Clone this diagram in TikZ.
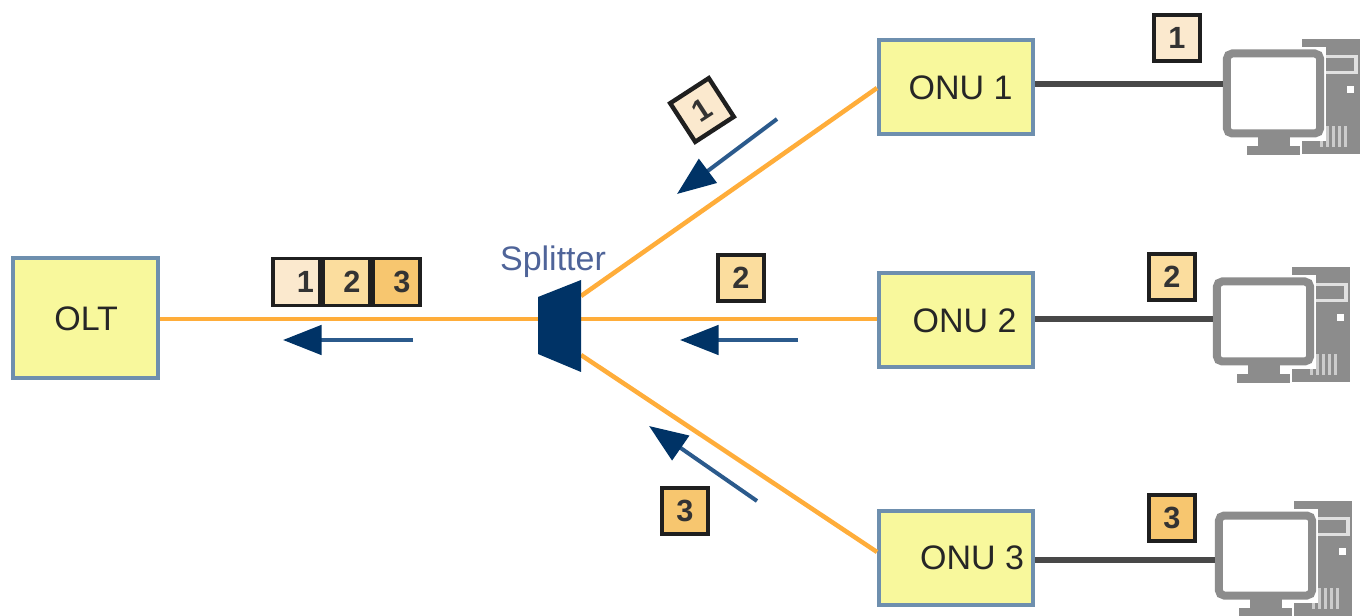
\documentclass[tikz,border=0pt]{standalone}
\usepackage{fontspec}
\setmainfont{Liberation Sans}
\usetikzlibrary{arrows.meta}
\definecolor{nodefill}{HTML}{F8F89C}
\definecolor{nodeline}{HTML}{6E8FAE}
\definecolor{fibre}{HTML}{FFAD3A}
\definecolor{navy}{HTML}{003366}
\definecolor{shaft}{HTML}{2B5A8C}
\definecolor{copper}{HTML}{484848}
\definecolor{pcgrey}{HTML}{8C8C8C}
\definecolor{labelblue}{HTML}{4F6499}
\definecolor{sigA}{HTML}{FBE9CE}
\definecolor{sigB}{HTML}{FBDD9E}
\definecolor{sigC}{HTML}{F7C66F}
\tikzset{
  x=0.75pt,y=-0.75pt,
  unit/.style={draw=nodeline,fill=nodefill,line width=3pt,minimum width=116pt,minimum height=70.5pt,inner sep=0pt,font=\fontsize{25.5}{25.5}\selectfont,text=black!85},
  fibreline/.style={draw=fibre,line width=3.4pt},
  copperline/.style={draw=copper,line width=3.8pt},
  flow/.style={draw=shaft,line width=3pt,-{Stealth[length=29pt,width=22pt,inset=0pt,color=navy]}},
  badge/.style={draw=black!88,line width=3.3pt,minimum size=34.5pt,inner sep=0pt,font=\fontsize{23}{23}\selectfont\bfseries,text=black!80},
  cell/.style={badge,line width=2.6pt,minimum width=35pt,minimum height=35pt},
  pcpart/.style={fill=pcgrey,draw=none},
  screen/.style={draw=pcgrey,fill=white,line width=6pt,rounded corners=4pt,minimum width=70pt,minimum height=60pt,inner sep=0pt},
  caption/.style={font=\fontsize{25.5}{25.5}\selectfont,text=labelblue,inner sep=0pt},
}
\newcommand{\pcicon}[3]{%
  \begin{scope}[shift={(#2,#3)}]
    \fill[pcpart] (1302,39) rectangle (1360,154);
    \fill[white!88!black] (1326,55) rectangle (1358,74);
    \fill[pcgrey] (1326,58) rectangle (1354,71);
    \fill[white] (1347,86) rectangle (1354,93);
    \foreach \vx in {1320,1326,1332,1338,1344}{\fill[white!80!black] (\vx,126) rectangle (\vx+3,147);}
    \fill[white] (1220,47) rectangle (1326,141);
    \fill[pcpart] (1258,136) rectangle (1290,147);
    \fill[pcpart] (1247,146) rectangle (1300,155);
    \node[screen] (#1) at (1273.5,93.5) {};
  \end{scope}}
\begin{document}
\begin{tikzpicture}
\useasboundingbox (0,0) rectangle (1367,616);
\pcicon{pcA}{0}{0}
\pcicon{pcB}{-10}{228}
\pcicon{pcC}{-8}{462}
\node[unit,minimum width=109pt,minimum height=90pt] (olt) at (85.5,318.5) {\hspace*{1pt}OLT};
\node[unit] (onuA) at (956,87.5) {\hspace*{7pt}ONU 1};
\node[unit] (onuB) at (956,320.5) {\hspace*{13pt}ONU 2};
\node[unit] (onuC) at (956,557.5) {\hspace*{24pt}ONU 3};
\node[minimum width=32pt,minimum height=69pt,inner sep=0pt] (split) at (559.5,326) {};
\coordinate (sw) at (538,319);
\coordinate (seA) at (581,296);
\coordinate (seB) at (581,319);
\coordinate (seC) at (581,355);
\coordinate (inA) at (877,88);
\coordinate (inB) at (877,319);
\coordinate (inC) at (877,552);
\draw[fibreline] (olt.east |- sw) -- (sw);
\draw[fibreline] (seA) -- (inA);
\draw[fibreline] (seB) -- (inB);
\draw[fibreline] (seC) -- (inC);
\fill[navy] (538,297) -- (581,280) -- (581,372) -- (538,354) -- cycle;
\node[caption] (splitlabel) at (553,262) {Splitter};
\coordinate (tA) at (1223,84);
\coordinate (tB) at (1213,319);
\coordinate (tC) at (1215,560);
\draw[copperline] (onuA.east |- tA) -- (tA);
\draw[copperline] (onuB.east |- tB) -- (tB);
\draw[copperline] (onuC.east |- tC) -- (tC);
\coordinate (fa) at (413,340); \coordinate (fb) at (283,340);
\coordinate (fc) at (798,340); \coordinate (fd) at (680,340);
\coordinate (fe) at (777,119); \coordinate (ff) at (677,194);
\coordinate (fg) at (757,501); \coordinate (fh) at (649,426);
\draw[flow] (fa) -- (fb);
\draw[flow] (fc) -- (fd);
\draw[flow] (fe) -- (ff);
\draw[flow] (fg) -- (fh);
\node[badge,fill=sigA] (bA) at (1177,38) {1};
\node[badge,fill=sigB] (bB) at (1172,277) {2};
\node[badge,fill=sigC] (bC) at (1172,518) {3};
\node[badge,fill=sigA,rotate=33] (bD) at (702,110) {1};
\node[badge,fill=sigB] (bE) at (741,278) {2};
\node[badge,fill=sigC] (bF) at (685,511) {3};
\node[cell,fill=sigA] (cA) at (296.5,282) {\hspace*{13.5pt}1};
\node[cell,fill=sigB] (cB) at (346.5,282) {\hspace*{8pt}2};
\node[cell,fill=sigC] (cC) at (396.5,282) {\hspace*{8pt}3};
\end{tikzpicture}
\end{document}
